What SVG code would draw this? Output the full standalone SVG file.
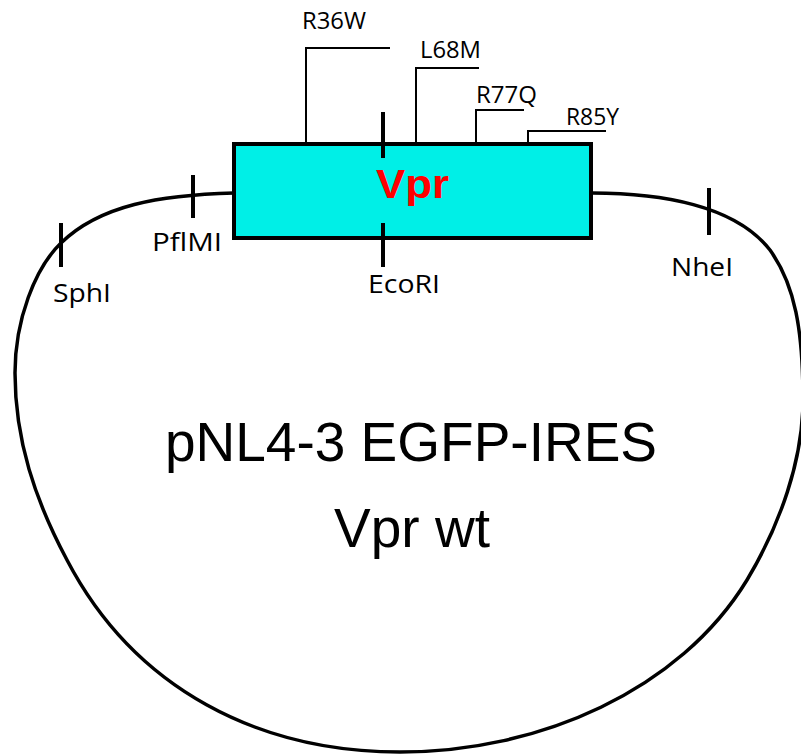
<svg xmlns="http://www.w3.org/2000/svg" width="801" height="754" viewBox="0 0 801 754">
<style>
.bb{fill:none;stroke:#000;stroke-width:3.5}
.tick{stroke:#000;stroke-width:4;fill:none}
.lead{stroke:#000;stroke-width:2;fill:none}
.lbl{font-family:"Open Sans","DejaVu Sans",sans-serif;font-size:26px;fill:#000}
.mut{font-family:"Open Sans","DejaVu Sans",sans-serif;font-size:24px;fill:#000}
.title{font-family:"Liberation Sans",Arial,sans-serif;font-size:55px;fill:#000;text-anchor:middle}
</style>
<rect width="801" height="754" fill="#fff"/>
<g id="backbone">
<path class="bb" d="M234,193 C160,195 100,205 61,243 C35,268 15,320 15,373 C15,440 35,500 67,560 C135,690 260,752 400,752 C540,752 680,690 747,580 C780,525 803,460 803,400 C803,330 795,285 770,250 C735,205 660,193 592,193"/>
</g>
<g id="connectors">
<line class="tick" x1="193" y1="175" x2="193" y2="218"/>
<line class="tick" x1="61" y1="223" x2="61" y2="267"/>
<line class="tick" x1="709" y1="188" x2="709" y2="235"/>
<polyline class="lead" points="306,144 306,48 390,48"/>
<polyline class="lead" points="416,142 416,68 479,68"/>
<polyline class="lead" points="476,142 476,110 524,110"/>
<polyline class="lead" points="528,144 528,131 606,131"/>
</g>
<g id="vpr">
<rect x="234" y="144" width="357" height="94" fill="#00EFE7" stroke="#000" stroke-width="4"/>
<line class="tick" x1="383" y1="112" x2="383" y2="158"/>
<line class="tick" x1="383" y1="223" x2="383" y2="267"/>
<text x="376" y="198" font-family="'Liberation Sans',Arial,sans-serif" font-weight="bold" font-size="40" fill="#FF0000" textLength="73" lengthAdjust="spacingAndGlyphs">Vpr</text>
</g>
<g id="site-sphi"><text class="lbl" x="53" y="302" textLength="58" lengthAdjust="spacingAndGlyphs">SphI</text></g>
<g id="site-pflmi"><text class="lbl" x="152" y="251" textLength="70" lengthAdjust="spacingAndGlyphs">PflMI</text></g>
<g id="site-ecori"><text class="lbl" x="368" y="293" textLength="72" lengthAdjust="spacingAndGlyphs">EcoRI</text></g>
<g id="site-nhei"><text class="lbl" x="671" y="276" textLength="62" lengthAdjust="spacingAndGlyphs">NheI</text></g>
<g id="mut-r36w"><text class="mut" x="302" y="29" textLength="64" lengthAdjust="spacingAndGlyphs">R36W</text></g>
<g id="mut-l68m"><text class="mut" x="420" y="58" textLength="61" lengthAdjust="spacingAndGlyphs">L68M</text></g>
<g id="mut-r77q"><text class="mut" x="476" y="103" textLength="61" lengthAdjust="spacingAndGlyphs">R77Q</text></g>
<g id="mut-r85y"><text class="mut" x="566" y="125" textLength="53" lengthAdjust="spacingAndGlyphs">R85Y</text></g>
<g id="title">
<text class="title" x="411" y="461">pNL4-3 EGFP-IRES</text>
<text class="title" x="412" y="547">Vpr wt</text>
</g>
</svg>
